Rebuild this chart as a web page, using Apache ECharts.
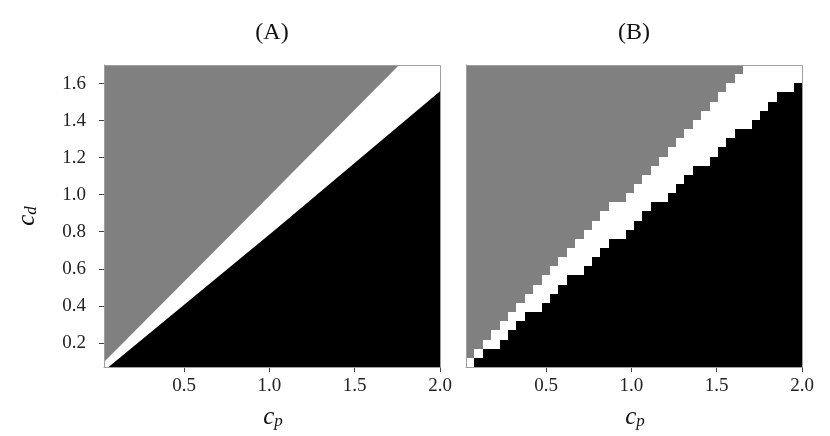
<!DOCTYPE html>
<html><head><meta charset="utf-8">
<script src="https://cdn.jsdelivr.net/npm/echarts@6/dist/echarts.min.js"></script>
<style>html,body{margin:0;padding:0;background:#fff}#c{width:830px;height:436px}</style>
</head><body><div id="c"></div>
<script>
// ---------- data ----------
const panelTitles = ['(A)', '(B)'];
const xTicks = [0.5, 1.0, 1.5, 2.0];
const yTicks = [0.2, 0.4, 0.6, 0.8, 1.0, 1.2, 1.4, 1.6];
const cpRange = [0.03, 2.0];
const cdRange = [0.07, 1.7];
// Panel A: region boundaries, points are [cp, cd]
const upperA = [[0.03, 0.097], [0.804, 0.812], [1.76, 1.70]];
const lowerA = [[0.057, 0.07], [1.039, 0.815], [2.0, 1.558]];
// Panel B: coarse grid, 40 columns x 33 rows; per column: number of black rows, first gray row
const nColsB = 40, nRowsB = 33;
const blackRowsB = [0,1,2,2,3,4,5,6,6,7,8,9,10,10,11,12,13,14,14,15,16,17,18,18,19,20,21,22,22,23,24,25,26,26,27,28,29,30,30,31];
const grayStartB = [1,2,3,4,5,6,7,8,9,10,11,12,13,14,15,16,17,18,18,19,20,21,22,23,24,25,26,27,28,29,30,31,32,33,33,33,33,33,33,33];

// ---------- style ----------
const FONT = '"Liberation Serif", "DejaVu Serif", serif';
const GRAY = '#808080', BLACK = '#000000', WHITE = '#ffffff';
const FRAME = '#a0a0a0';
const grids = [
  {left: 104, top: 65, width: 336, height: 302},
  {left: 466, top: 65, width: 336, height: 302}
];

function xAxisFor(gi) {
  return {
    type: 'value', gridIndex: gi, min: cpRange[0], max: cpRange[1],
    axisLine: {show: true, lineStyle: {color: FRAME, width: 1}},
    axisTick: {show: true, customValues: xTicks, length: 5, lineStyle: {color: '#444'}},
    axisLabel: {show: true, customValues: xTicks, margin: 10, color: '#222',
      fontFamily: FONT, fontSize: 19, formatter: v => v.toFixed(1)},
    splitLine: {show: false}
  };
}
function yAxisFor(gi) {
  const showLbl = gi === 0;
  return {
    type: 'value', gridIndex: gi, min: cdRange[0], max: cdRange[1],
    axisLine: {show: true, lineStyle: {color: FRAME, width: 1}},
    axisTick: {show: showLbl, customValues: yTicks, length: 5, lineStyle: {color: '#444'}},
    axisLabel: {show: showLbl, customValues: yTicks, margin: 18, color: '#222',
      fontFamily: FONT, fontSize: 19, formatter: v => v.toFixed(1)},
    splitLine: {show: false}
  };
}

const seriesA = {
  type: 'custom', xAxisIndex: 0, yAxisIndex: 0, clip: true, silent: true,
  data: [[cpRange[0], cdRange[0]]],
  renderItem: function (params, api) {
    const grayPts = [[cpRange[0], cdRange[1]]].concat(upperA).map(p => api.coord(p));
    const blackPts = lowerA.concat([[cpRange[1], cdRange[0]]]).map(p => api.coord(p));
    return {type: 'group', children: [
      {type: 'polygon', shape: {points: grayPts}, style: {fill: GRAY}},
      {type: 'polygon', shape: {points: blackPts}, style: {fill: BLACK}}
    ]};
  }
};

const seriesB = {
  type: 'custom', xAxisIndex: 1, yAxisIndex: 1, clip: true, silent: true,
  data: blackRowsB.map((nb, i) => [i, nb, grayStartB[i]]),
  renderItem: function (params, api) {
    const i = api.value(0), nb = api.value(1), ng = api.value(2);
    const w = (cpRange[1] - cpRange[0]) / nColsB;
    const h = (cdRange[1] - cdRange[0]) / nRowsB;
    const x0 = cpRange[0] + i * w, x1 = x0 + w;
    const yAt = r => cdRange[0] + r * h;
    function rect(r0, r1, color) {
      const p0 = api.coord([x0, yAt(r0)]), p1 = api.coord([x1, yAt(r1)]);
      const L = Math.round(p0[0]), R = Math.round(p1[0]);
      const B = Math.round(p0[1]), T = Math.round(p1[1]);
      return {type: 'rect', shape: {x: L, y: T, width: R - L, height: B - T}, style: {fill: color}};
    }
    return {type: 'group', children: [
      rect(0, nb, BLACK), rect(nb, ng, WHITE), rect(ng, nRowsB, GRAY)
    ]};
  }
};

function nameText(x, y, base, sub, rot) {
  return {
    type: 'text', x: x, y: y, rotation: rot || 0, z: 100,
    style: {
      text: '{c|' + base + '}{s|' + sub + '}',
      align: 'center', verticalAlign: 'middle',
      rich: {
        c: {fontFamily: FONT, fontStyle: 'italic', fontSize: 25, lineHeight: 26, verticalAlign: 'middle', fill: '#111'},
        s: {fontFamily: FONT, fontStyle: 'italic', fontSize: 17, lineHeight: 16, verticalAlign: 'bottom', fill: '#111'}
      }
    }
  };
}

const graphics = [];
grids.forEach((g, k) => {
  graphics.push({type: 'rect', z: 100, silent: true,
    shape: {x: g.left + 0.5, y: g.top + 0.5, width: g.width, height: g.height},
    style: {fill: null, stroke: FRAME, lineWidth: 1}});
  graphics.push({type: 'text', x: g.left + g.width / 2, y: 33, z: 100,
    style: {text: panelTitles[k], font: '24px ' + FONT, fill: '#111', align: 'center', verticalAlign: 'middle'}});
  graphics.push(nameText(g.left + g.width / 2 + 1, 417, 'c', 'p', 0));
});
graphics.push(nameText(27, 216, 'c', 'd', Math.PI / 2));

const chart = echarts.init(document.getElementById('c'), null, {renderer: 'canvas'});
chart.setOption({
  animation: false,
  backgroundColor: '#fff',
  grid: grids,
  xAxis: [xAxisFor(0), xAxisFor(1)],
  yAxis: [yAxisFor(0), yAxisFor(1)],
  series: [seriesA, seriesB],
  graphic: graphics
});
</script></body></html>
